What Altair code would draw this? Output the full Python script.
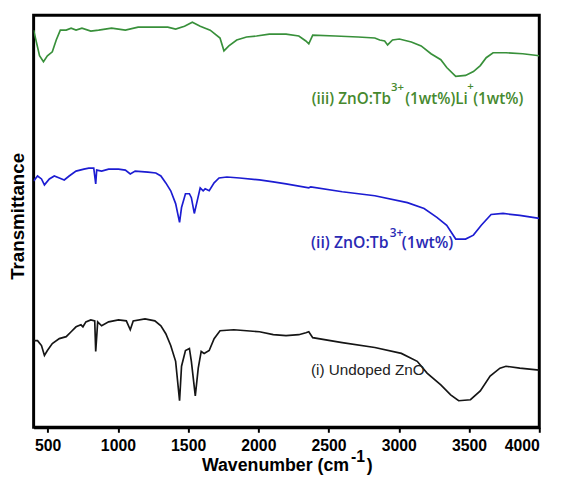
import altair as alt
import pandas as pd

# ---------------- data (arbitrary transmittance units, offset per spectrum) ----------------
wn_iii = [400, 442, 470, 498, 533, 561, 590, 632, 667, 702, 744, 807, 863, 955, 1053, 1144, 1263,
          1355, 1411, 1474, 1530, 1586, 1657, 1727, 1755, 1790, 1846, 1916, 1987, 2078, 2197, 2288,
          2338, 2359, 2387, 2548, 2710, 2829, 2864, 2899, 2920, 2955, 3004, 3089, 3159, 3229, 3299,
          3341, 3405, 3475, 3531, 3580, 3622, 3671, 3763, 3882, 4000]
t_iii = [403, 377, 371, 377, 381, 393, 403, 403, 405, 403, 405, 402, 403, 405, 403, 406, 406,
         406, 404, 407, 411, 407, 403, 395, 382, 387, 393, 396, 397, 399, 399, 397,
         392, 389, 398, 397, 396, 395, 393, 392, 388, 393, 394, 391, 387, 379, 373,
         365, 356, 357, 361, 367, 375, 380, 380, 379, 377]

wn_ii = [400, 428, 456, 477, 512, 547, 583, 618, 653, 702, 758, 793, 828, 842, 849, 884, 934, 1004,
         1053, 1088, 1123, 1214, 1270, 1306, 1341, 1376, 1411, 1439, 1453, 1481, 1509, 1523, 1544,
         1565, 1586, 1607, 1621, 1650, 1685, 1720, 1776, 1867, 2008, 2106, 2197, 2359, 2373, 2597,
         2829, 3061, 3180, 3271, 3341, 3405, 3475, 3531, 3587, 3657, 3742, 3861, 4000]
t_ii = [250, 255, 252, 246, 252, 255, 253, 251, 255, 260, 262, 263, 263, 247, 261, 260, 262, 262,
        261, 257, 260, 259, 258, 255, 248, 240, 227, 208, 223, 237, 237, 233, 217,
        230, 243, 240, 242, 240, 248, 253, 254, 253, 251, 249, 247, 243, 244, 239,
        235, 228, 222, 213, 205, 191, 191, 195, 205, 216, 217, 215, 212]

wn_i = [400, 428, 456, 477, 498, 533, 583, 632, 667, 702, 737, 751, 772, 807, 835, 842, 856, 884,
        934, 1004, 1060, 1088, 1109, 1193, 1263, 1306, 1341, 1376, 1411, 1439, 1453, 1481, 1509,
        1523, 1551, 1572, 1593, 1614, 1650, 1685, 1727, 1825, 1916, 2008, 2106, 2197, 2288, 2338,
        2359, 2387, 2597, 2829, 3018, 3131, 3201, 3299, 3369, 3426, 3510, 3580, 3650, 3720, 3763,
        3861, 4000]
t_i = [88, 88, 83, 73, 78, 85, 90, 92, 97, 102, 104, 102, 107, 109, 108, 77, 107, 103,
       107, 109, 108, 99, 108, 110, 108, 103, 95, 83, 67, 27, 62, 78, 80,
       67, 32, 60, 77, 75, 78, 90, 98, 99, 98, 97, 94, 93, 94, 96,
       97, 91, 86, 81, 75, 67, 55, 43, 33, 27, 28, 37, 52, 60, 62,
       60, 58]

series_names = ["(i) Undoped ZnO", "(ii) ZnO:Tb", "(iii) ZnO:Tb Li"]
line_colors = ["#151515", "#1c1cd2", "#38903a"]

x_ticks = [500, 750, 1000, 1250, 1500, 1750, 2000, 2250, 2500, 2750, 3000, 3250, 3500, 3750, 4000]

# label segments: text, wavenumber, transmittance value
iii_text = ["(iii) ZnO:Tb", "(1wt%)Li", "(1wt%)"]
iii_x = [2380, 3045, 3530]
iii_y = [333, 333, 333]
iii_sup = ["3+", "+"]
iii_sup_x = [2945, 3488]
iii_sup_y = [344, 345]

ii_text = ["(ii) ZnO:Tb", "(1wt%)"]
ii_x = [2375, 3020]
ii_y = [187, 187]
ii_sup = ["3+"]
ii_sup_x = [2936]
ii_sup_y = [197]

i_text = ["(i) Undoped ZnO"]
i_x = [2375]
i_y = [58]

# ---------------- build tables ----------------
rows = []
for name, xs_, ys_ in zip(series_names, [wn_i, wn_ii, wn_iii], [t_i, t_ii, t_iii]):
    for a, b in zip(xs_, ys_):
        rows.append({"sample": name, "wavenumber": a, "T": b})
df = pd.DataFrame(rows)

W, H = 513, 418
xs = alt.Scale(domain=[400, 4000], nice=False, zero=False)
ys = alt.Scale(domain=[0, 418], nice=False, zero=False)

lines = alt.Chart(df).mark_line(strokeWidth=1.7, clip=True).encode(
    x=alt.X("wavenumber:Q", scale=xs, title=None,
            axis=alt.Axis(values=x_ticks, format="d",
                          labelExpr="datum.value % 500 == 0 ? datum.label : ''",
                          grid=False, domain=True, domainColor="black", domainWidth=3,
                          ticks=True, tickColor="black", tickWidth=2, tickSize=5,
                          labelFont="Liberation Sans", labelFontWeight="bold", labelFontSize=16,
                          labelColor="black", labelPadding=6)),
    y=alt.Y("T:Q", scale=ys, axis=None),
    color=alt.Color("sample:N", scale=alt.Scale(domain=series_names, range=line_colors), legend=None),
)


def text_layer(texts, xv, yv, font, size, color, weight="normal"):
    d = pd.DataFrame({"text": texts, "x": xv, "y": yv})
    return alt.Chart(d).mark_text(font=font, fontSize=size, fontWeight=weight, align="left",
                                  baseline="middle", color=color).encode(
        x=alt.X("x:Q", scale=xs), y=alt.Y("y:Q", scale=ys), text="text:N")


green_txt = "#46892e"
blue_txt = "#2a2ab4"
lab_iii = text_layer(iii_text, iii_x, iii_y, "Open Sans", 15.5, green_txt, 600)
sup_iii = text_layer(iii_sup, iii_sup_x, iii_sup_y, "Open Sans", 11.5, green_txt, 600)
lab_ii = text_layer(ii_text, ii_x, ii_y, "Open Sans", 16, blue_txt, 600)
sup_ii = text_layer(ii_sup, ii_sup_x, ii_sup_y, "Open Sans", 12, blue_txt, 600)
lab_i = text_layer(i_text, i_x, i_y, "Liberation Sans", 15.5, "#222222")

ytitle = alt.Chart(pd.DataFrame({"t": ["Transmittance"]})).mark_text(
    font="Liberation Sans", fontWeight="bold", fontSize=19, angle=270, align="center", baseline="middle",
    color="black").encode(x=alt.value(-16), y=alt.value(204), text="t:N")

xt_main = alt.Chart(pd.DataFrame({"t": ["Wavenumber (cm"]})).mark_text(
    font="Liberation Sans", fontWeight="bold", fontSize=18, align="right", baseline="alphabetic",
    color="black").encode(x=alt.value(320), y=alt.value(462), text="t:N")
xt_sup = alt.Chart(pd.DataFrame({"t": ["-1"]})).mark_text(
    font="Liberation Sans", fontWeight="bold", fontSize=16, align="left", baseline="alphabetic",
    color="black").encode(x=alt.value(322), y=alt.value(453), text="t:N")
xt_close = alt.Chart(pd.DataFrame({"t": [")"]})).mark_text(
    font="Liberation Sans", fontWeight="bold", fontSize=18, align="left", baseline="alphabetic",
    color="black").encode(x=alt.value(338), y=alt.value(462), text="t:N")

chart = alt.layer(lines, lab_iii, sup_iii, lab_ii, sup_ii, lab_i, ytitle, xt_main, xt_sup, xt_close).properties(
    width=W, height=H,
    autosize=alt.AutoSizeParams(type="none"),
    padding={"left": 26, "top": 4, "right": 20, "bottom": 51},
).configure_view(stroke="black", strokeWidth=3)

chart.save("out.html", embed_options={"renderer": "svg", "actions": False})
